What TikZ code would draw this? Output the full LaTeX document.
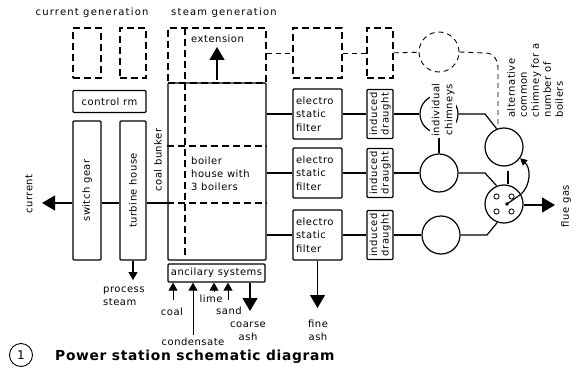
\documentclass[tikz,border=0pt]{standalone}
\usepackage{fontspec}
\setmainfont{DejaVu Sans}[LetterSpace=5]
\usetikzlibrary{arrows.meta,calc}
\begin{document}
\begin{tikzpicture}[x=1pt,y=-1pt,
  every node/.style={font=\fontsize{10}{13}\selectfont, inner sep=0pt},
  lw/.style={line width=1.2pt},
  thin line/.style={line width=0.9pt},
  box/.style={draw, line width=1.3pt, rounded corners=1pt},
  dbox/.style={draw, line width=1.1pt, dash pattern=on 7pt off 4pt},
  dl/.style={line width=1.1pt, dash pattern=on 7pt off 4pt},
  dlt/.style={line width=0.9pt, dash pattern=on 5pt off 4pt},
  bigarrow/.style={-{Triangle[width=15pt,length=13pt]}},
  smallarrow/.style={-{Triangle[width=9pt,length=8pt]}},
  chim/.style={circle, draw, line width=1.2pt, minimum size=38pt},
  rlab/.style={rotate=90}
]
\useasboundingbox (0,0) rectangle (577,374);

% titles
\node (tcur) at (92,13) {\addfontfeature{LetterSpace=12}current generation};
\node (tsteam) at (224,13) {\addfontfeature{LetterSpace=12}steam generation};

% current generation
\node[dbox, minimum width=28pt, minimum height=50pt] (cg1) at (87,53) {};
\node[dbox, minimum width=26pt, minimum height=50pt] (cg2) at (133,53) {};
\node[box, minimum width=73pt, minimum height=22pt] (ctrl) at (109.5,101.5) {control rm};
\node[box, minimum width=28pt, minimum height=139pt, label={[rlab]center:switch gear}] (sw) at (87,190.5) {};
\node[box, minimum width=26pt, minimum height=139pt, label={[rlab]center:turbine house}] (tb) at (133,190.5) {};
\node[rlab] (cb) at (158,160) {coal bunker};

% steam generation
\node[dbox, minimum width=98pt, minimum height=55pt] (ext) at (217,55.5) {};
\node[box, minimum width=98pt, minimum height=177pt] (boiler) at (217,171.5) {};
\draw[dl] (boiler.west |- 0,146) -- (boiler.east |- 0,146);
\draw[dl] (boiler.west |- 0,203) -- (boiler.east |- 0,203);
\draw[dl] (185,28) -- (185,258);
\node[anchor=west] (extt) at (191,39) {extension};
\coordinate (xa0) at (217,80);
\coordinate (xa1) at (217,47);
\draw[lw, bigarrow] (xa0) -- (xa1);
\node[anchor=west, align=left] (bt) at (191,174) {boiler\\house with\\3 boilers};

% main current line
\coordinate (m) at (0,203);
\coordinate (cur) at (42,203);
\draw[lw] (boiler.west |- m) -- (tb.east |- m);
\draw[lw] (tb.west |- m) -- (sw.east |- m);
\draw[lw, bigarrow] (sw.west |- m) -- (cur);
\node[rlab] (curt) at (29,194) {current};

% process steam
\coordinate (ps) at (133,280);
\draw[lw, smallarrow] (tb.south) -- (ps);
\node[anchor=north west, align=left] (pst) at (103,287) {process\\steam};

% ancillary
\node[box, minimum width=97pt, minimum height=18pt] (anc) at (216.5,273) {ancilary systems};
\coordinate (coalS) at (173,300);
\coordinate (condS) at (193,335);
\coordinate (limeS) at (214,292);
\coordinate (sandS) at (228,300);
\coordinate (ashE) at (250,311);
\draw[thin line, smallarrow] (coalS) -- (coalS |- anc.south);
\draw[thin line, smallarrow] (condS) -- (condS |- anc.south);
\draw[thin line, smallarrow] (limeS) -- (limeS |- anc.south);
\draw[thin line, smallarrow] (sandS) -- (sandS |- anc.south);
\draw[lw, bigarrow] (anc.south -| ashE) -- (ashE);
\node (coalt) at (172,312) {coal};
\node (condt) at (193,341.5) {condensate};
\node (limet) at (211,299) {lime};
\node (sandt) at (229,311) {sand};
\node[align=center] (asht) at (248,331) {coarse\\ash};

% filters
\node[dbox, minimum width=49pt, minimum height=50pt] (f0) at (317.5,53) {};
\foreach \i/\y in {1/114,2/173,3/235}{
  \node[box, minimum width=49pt, minimum height=50pt, text width=43pt, align=left,
        font=\fontsize{10}{13.5}\selectfont] (f\i) at (317.5,\y) {electro\\static\\filter};
  \node[box, minimum width=26pt, minimum height=49pt,
        label={[rlab, align=center, font=\fontsize{10}{11.5}\selectfont]center:induced\\draught}] (d\i) at (380,\y) {};
  \draw[lw] (boiler.east |- f\i) -- (f\i);
  \draw[lw] (f\i) -- (d\i);
}
\node[dbox, minimum width=26pt, minimum height=50pt] (d0) at (380,53) {};

% chimneys
\node[chim, dash pattern=on 5pt off 4pt, line width=0.9pt, minimum size=40pt] (c0) at (439,52) {};
\node[chim] (c1) at (439,114) {};
\node[chim] (c2) at (439,173) {};
\node[chim] (c3) at (441,235) {};
\node[chim] (cu) at (504,147) {};
\node[chim] (cl) at (504,204) {};
\foreach \i in {1,2,3}{ \draw[lw] (d\i) -- (c\i); }

% dashed extension line
\draw[dlt] (ext.east |- f0) -- (f0);
\draw[dlt] (f0) -- (d0);
\draw[dlt] (d0) -- (c0);
\draw[dlt] (c0.east) -- (486,53) to[out=0,in=90] (498,68) -- (cu.108);

% chimney connections
\draw[lw] (c1.east) -- (485,114) -- (cu.112);
\draw[lw] (c2.east) -- (485,173) -- (cl.112);
\draw[lw] (c3.east) -- (487,235) -- (cl.250);
\draw[lw] ([xshift=4pt,yshift=-4pt]cu.south) -- ([xshift=4pt]cl.north);

% holes and damper
\foreach \dx/\dy in {-7.5/-7.5,7.5/-7.5,-7.5/7.5,7.5/7.5}{
  \draw[line width=0.8pt] ($(cl.center)+(\dx,\dy)$) circle (2.6pt);
}
\coordinate (dmp) at ($(cl.center)+(3,0)$);
\fill (dmp) circle (1.8pt);
\draw[lw] (dmp) -- (cl.30);
\draw[lw, -{Triangle[width=7pt,length=7pt]}] (cl.30) .. controls (531,185) and (531,168) .. (cu.-35);

% flue gas
\coordinate (fg) at (555,205);
\draw[lw, bigarrow] (cl.east |- fg) -- (fg);
\node[rlab] (fgt) at (566,206) {flue gas};

% fine ash
\coordinate (fa) at (317.5,308);
\draw[lw, bigarrow] (f3.south) -- (fa);
\node[align=center] (fat) at (318,330) {fine\\ash};

% chimney labels
\node[rlab, align=center, fill=white, inner sep=1.5pt] (ind) at (443,110) {individual\\chimneys};
\draw[lw] (c2.north) -- (c2.north |- ind.west);
\node[rlab, align=left, anchor=north west, font=\fontsize{10}{12}\selectfont] (alt) at (507,118)
  {alternative\\common\\chimney for a\\number of\\boilers};

% caption
\node[circle, draw, line width=0.9pt, minimum size=23pt, font=\fontsize{12}{14}\selectfont] (num) at (21,355) {1};
\node[anchor=base west, font=\bfseries\fontsize{13.8}{16}\selectfont] (title) at (55,360) {Power station schematic diagram};
\end{tikzpicture}
\end{document}
